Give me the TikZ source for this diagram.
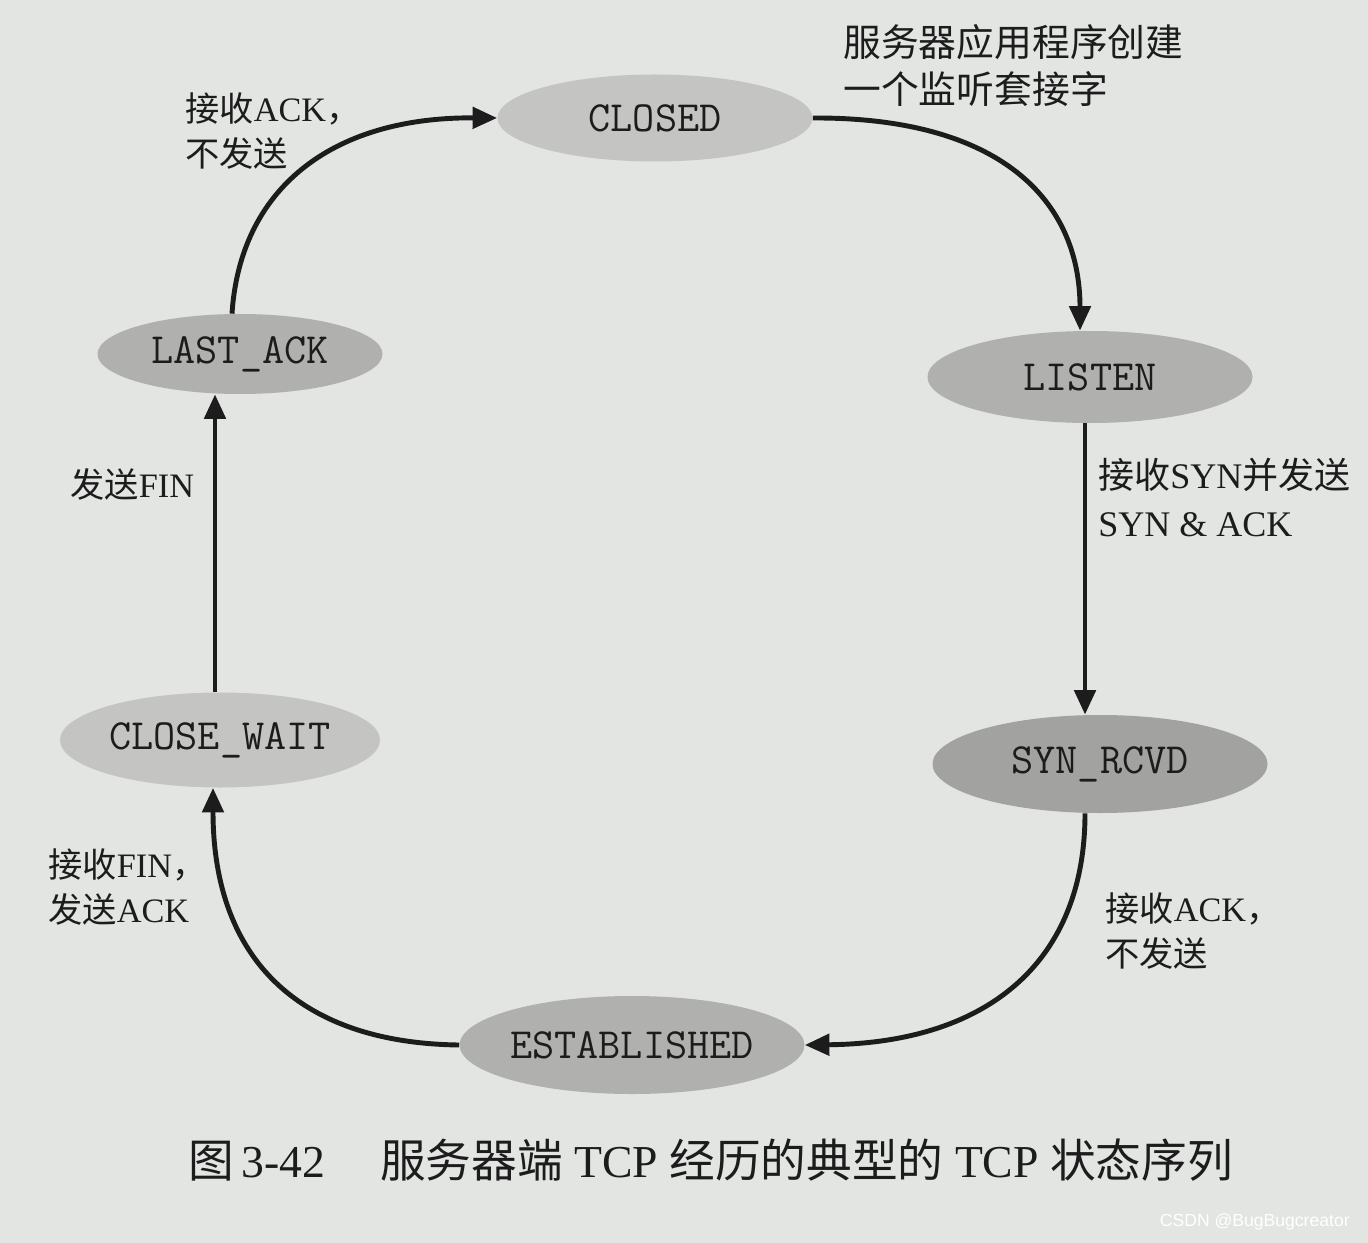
\documentclass[tikz,border=0pt]{standalone}
\usepackage{fontspec}
\setmainfont{Liberation Serif}
\newfontfamily\cjk{Noto Sans CJK SC}
\newfontfamily\wm{Liberation Sans}
\usetikzlibrary{shapes.geometric,arrows.meta}
\definecolor{paper}{RGB}{226,229,226}
\definecolor{stfill}{RGB}{176,176,174}
\definecolor{stlight}{RGB}{196,196,194}
\definecolor{ink}{RGB}{28,28,28}
\begin{document}
\begin{tikzpicture}[x=0.02cm,y=-0.02cm,
  state/.style={ellipse,fill=stfill,inner sep=0pt,font=\ttfamily\fontsize{24.5}{27}\selectfont,text=ink},
  lbl/.style={align=left,anchor=north west,inner sep=0pt,text=ink,font=\fontsize{19.5}{26}\selectfont},
  conn/.style={draw=ink,line width=2.8pt,-{Triangle[length=14pt,width=12pt]}}]
\fill[paper] (0,0) rectangle (1368,1243);
\useasboundingbox (0,0) rectangle (1368,1243);
\node[state,fill=stlight,minimum width=315*0.02cm,minimum height=87*0.02cm] (closed) at (655,118) {CLOSED};
\node[state,minimum width=325*0.02cm,minimum height=92*0.02cm] (listen) at (1090,377) {LISTEN};
\node[state,fill=stfill!92!black,minimum width=335*0.02cm,minimum height=98*0.02cm] (synrcvd) at (1100,764) {SYN\_RCVD};
\node[state,minimum width=340*0.02cm,minimum height=98*0.02cm] (est) at (632,1045) {ESTABLISHED};
\node[state,fill=stlight,minimum width=320*0.02cm,minimum height=95*0.02cm] (closewait) at (220,740) {CLOSE\_WAIT};
\node[state,minimum width=285*0.02cm,minimum height=80*0.02cm] (lastack) at (240,354) {LAST\_ACK};
% connectors
\draw[conn] (lastack.north -| 232,0) .. controls (240,190) and (330,117) .. (closed.west);
\draw[conn] (closed.east) .. controls (1000,117) and (1080,200) .. (listen.north -| 1080,0);
\draw[conn] (listen.south -| 1085,0) -- (synrcvd.north -| 1085,0);
\draw[conn] (synrcvd.south -| 1085,0) .. controls (1085,960) and (990,1043) .. (est.east);
\draw[conn] (est.west) .. controls (300,1043) and (213,960) .. (closewait.south -| 213,0);
\draw[conn] (closewait.north -| 215,0) -- (lastack.south -| 215,0);
% labels
\node[lbl] (l1) at (185,92) {{\cjk 接收}ACK{\cjk ，}\\{\cjk 不发送}};
\node[lbl,font=\fontsize{21.5}{27}\selectfont] (l2) at (843,24) {\cjk 服务器应用程序创建\\\cjk 一个监听套接字};
\node[lbl,font=\fontsize{20.5}{27}\selectfont] (l3) at (1098,458) {{\cjk 接收}SYN{\cjk 并发送}\\SYN \& ACK};
\node[lbl] (l4) at (1105,892) {{\cjk 接收}ACK{\cjk ，}\\{\cjk 不发送}};
\node[lbl] (l5) at (48,848) {{\cjk 接收}FIN{\cjk ，}\\{\cjk 发送}ACK};
\node[lbl] (l6) at (70,468) {{\cjk 发送}FIN};
\node[anchor=west,inner sep=0pt,text=ink,font=\fontsize{26}{30}\selectfont] (cap) at (188,1160) {{\cjk 图}\,3-42\hspace{1.2em}{\cjk 服务器端} TCP {\cjk 经历的典型的} TCP {\cjk 状态序列}};
\node[anchor=east,inner sep=0pt,text=white,font=\wm\fontsize{10}{12}\selectfont] (wm) at (1350,1222) {CSDN @BugBugcreator};
\end{tikzpicture}
\end{document}
